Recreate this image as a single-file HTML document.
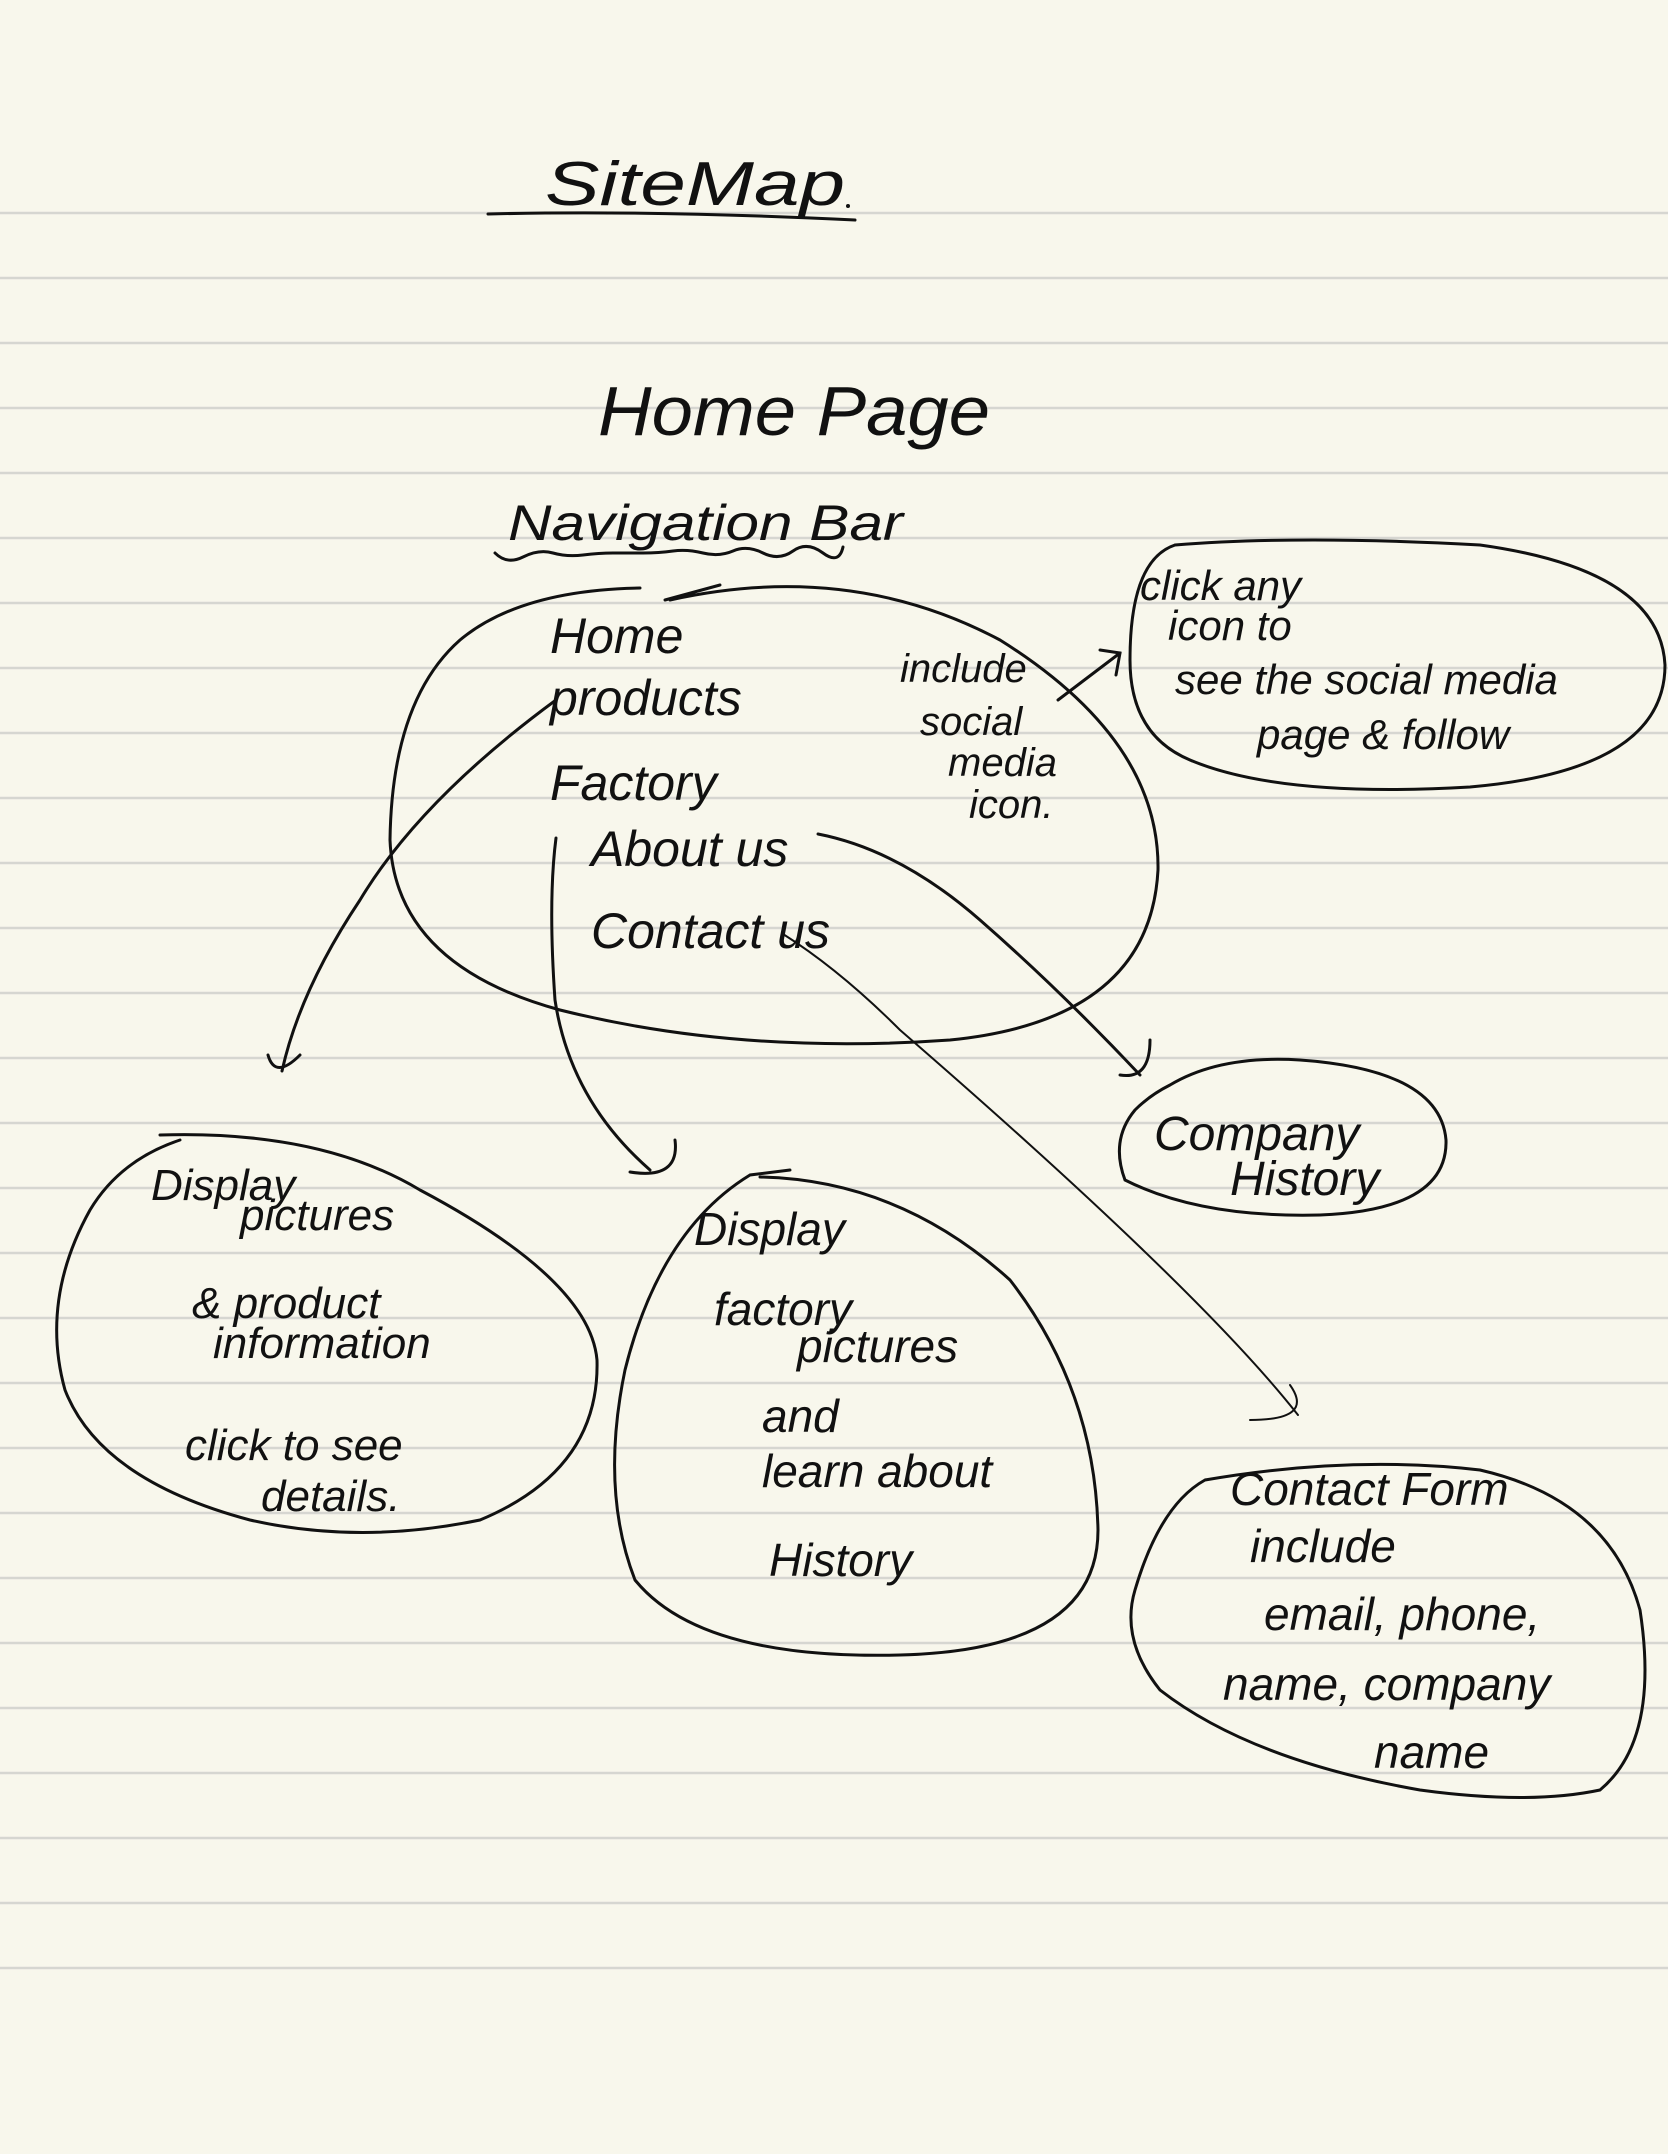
<!DOCTYPE html>
<html><head><meta charset="utf-8"><style>
html,body{margin:0;padding:0;background:#f8f7ec;}
svg{display:block;}
text{font-family:"Liberation Sans",sans-serif;fill:#111;font-style:italic;}
</style></head><body>
<svg width="1668" height="2154" viewBox="0 0 1668 2154" xmlns="http://www.w3.org/2000/svg">
<rect width="1668" height="2154" fill="#f8f7ec"/>
<g stroke="#d6d6d1" stroke-width="2.5">
<line x1="0" y1="213" x2="1668" y2="213"/><line x1="0" y1="278" x2="1668" y2="278"/><line x1="0" y1="343" x2="1668" y2="343"/><line x1="0" y1="408" x2="1668" y2="408"/><line x1="0" y1="473" x2="1668" y2="473"/><line x1="0" y1="538" x2="1668" y2="538"/><line x1="0" y1="603" x2="1668" y2="603"/><line x1="0" y1="668" x2="1668" y2="668"/><line x1="0" y1="733" x2="1668" y2="733"/><line x1="0" y1="798" x2="1668" y2="798"/><line x1="0" y1="863" x2="1668" y2="863"/><line x1="0" y1="928" x2="1668" y2="928"/><line x1="0" y1="993" x2="1668" y2="993"/><line x1="0" y1="1058" x2="1668" y2="1058"/><line x1="0" y1="1123" x2="1668" y2="1123"/><line x1="0" y1="1188" x2="1668" y2="1188"/><line x1="0" y1="1253" x2="1668" y2="1253"/><line x1="0" y1="1318" x2="1668" y2="1318"/><line x1="0" y1="1383" x2="1668" y2="1383"/><line x1="0" y1="1448" x2="1668" y2="1448"/><line x1="0" y1="1513" x2="1668" y2="1513"/><line x1="0" y1="1578" x2="1668" y2="1578"/><line x1="0" y1="1643" x2="1668" y2="1643"/><line x1="0" y1="1708" x2="1668" y2="1708"/><line x1="0" y1="1773" x2="1668" y2="1773"/><line x1="0" y1="1838" x2="1668" y2="1838"/><line x1="0" y1="1903" x2="1668" y2="1903"/><line x1="0" y1="1968" x2="1668" y2="1968"/>
</g>
<g fill="none" stroke="#111" stroke-width="3" stroke-linecap="round">
<path d="M488 214 Q650 210 855 220"/>
<path d="M495 553 q12 12 28 4 t30 -4 t30 2 t30 -2 t30 0 t30 -2 t30 2 t30 -2 t30 2 t30 -2 t30 2 t20 -6"/>
<path d="M670 600 Q850 560 1000 640 Q1160 740 1158 870 Q1150 1020 950 1040 Q740 1055 560 1010 Q395 965 390 840 Q392 700 460 640 Q520 590 640 588 M665 600 L720 585"/>
<path d="M1175 545 Q1300 535 1480 545 Q1660 570 1665 665 Q1665 770 1470 787 Q1280 798 1190 760 Q1130 735 1130 660 Q1130 560 1175 545"/>
<path d="M1170 1085 Q1220 1055 1300 1060 Q1440 1070 1446 1140 Q1448 1210 1320 1215 Q1200 1218 1125 1180 Q1110 1140 1135 1110 Q1150 1095 1170 1085"/>
<path d="M160 1135 Q320 1130 420 1190 Q590 1280 597 1360 Q600 1470 480 1520 Q360 1545 250 1520 Q100 1480 65 1390 Q40 1300 90 1210 Q120 1160 180 1140"/>
<path d="M760 1177 Q900 1180 1010 1280 Q1095 1390 1098 1530 Q1098 1650 900 1655 Q700 1660 635 1580 Q600 1490 625 1370 Q660 1230 750 1175 L790 1170"/>
<path d="M1205 1480 Q1350 1455 1480 1470 Q1610 1500 1640 1610 Q1660 1740 1600 1790 Q1530 1805 1420 1790 Q1250 1760 1160 1690 Q1120 1640 1135 1590 Q1160 1505 1205 1480"/>
<path d="M1058 700 L1120 653 M1100 650 L1120 653 L1116 675"/>
<path d="M818 834 Q900 850 980 920 Q1060 990 1140 1075 M1150 1040 Q1150 1080 1120 1075"/>
<path d="M556 700 Q420 800 360 900 Q300 990 282 1071 M268 1055 Q275 1080 300 1055"/>
<path d="M556 838 Q548 900 555 1000 Q570 1100 650 1170 M675 1140 Q680 1180 630 1172"/>
<path d="M783 934 Q840 970 900 1030 Q1200 1290 1298 1415 M1290 1385 Q1315 1420 1250 1420" stroke-width="2"/>
</g>
<text x="545" y="205" font-size="62" textLength="300" lengthAdjust="spacingAndGlyphs">SiteMap</text>
<circle cx="848" cy="206" r="2" fill="#111"/>
<text x="598" y="435" font-size="70" textLength="392" lengthAdjust="spacingAndGlyphs">Home Page</text>
<text x="508" y="540" font-size="50" textLength="395" lengthAdjust="spacingAndGlyphs">Navigation Bar</text>
<g font-size="50">
<text x="550" y="653">Home</text>
<text x="550" y="715">products</text>
<text x="550" y="800">Factory</text>
<text x="591" y="866">About us</text>
<text x="591" y="948">Contact us</text>
</g>
<g font-size="40">
<text x="900" y="682">include</text>
<text x="920" y="735">social</text>
<text x="948" y="776">media</text>
<text x="969" y="818">icon.</text>
</g>
<g font-size="42">
<text x="1140" y="600">click any</text>
<text x="1168" y="640">icon to</text>
<text x="1175" y="694">see the social media</text>
<text x="1257" y="749">page &amp; follow</text>
</g>
<g font-size="48">
<text x="1154" y="1150">Company</text>
<text x="1230" y="1195">History</text>
</g>
<g font-size="44">
<text x="151" y="1200">Display</text>
<text x="240" y="1230">pictures</text>
<text x="192" y="1318">&amp; product</text>
<text x="213" y="1358">information</text>
<text x="185" y="1460">click to see</text>
<text x="261" y="1511">details.</text>
</g>
<g font-size="46">
<text x="694" y="1245">Display</text>
<text x="714" y="1325">factory</text>
<text x="797" y="1362">pictures</text>
<text x="762" y="1432">and</text>
<text x="762" y="1487">learn about</text>
<text x="769" y="1576">History</text>
</g>
<g font-size="46">
<text x="1230" y="1505">Contact Form</text>
<text x="1250" y="1562">include</text>
<text x="1264" y="1630">email, phone,</text>
<text x="1223" y="1700">name, company</text>
<text x="1374" y="1768">name</text>
</g>
</svg>
</body></html>
